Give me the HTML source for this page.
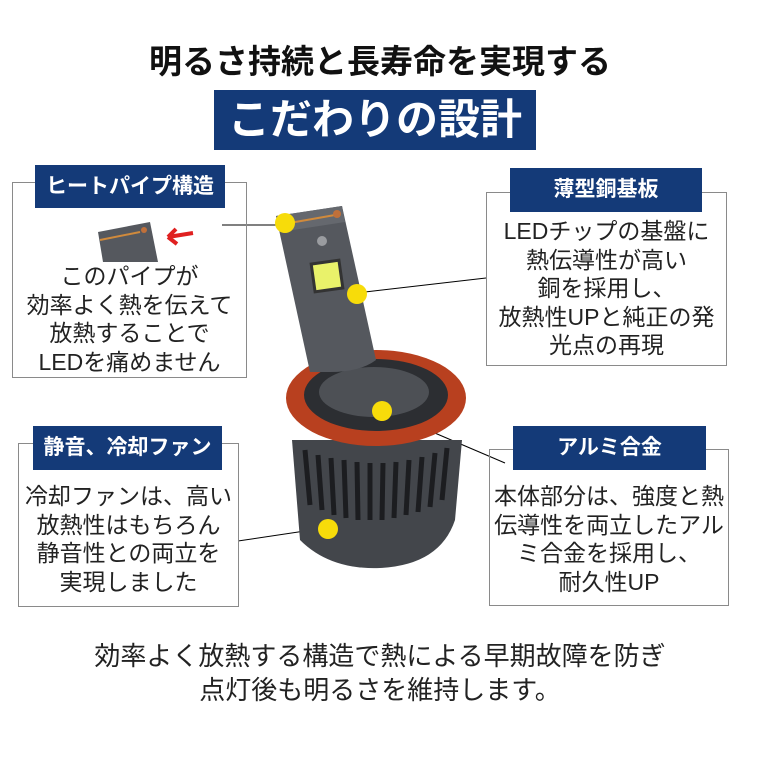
<!DOCTYPE html>
<html><head><meta charset="utf-8"><style>
body{margin:0;width:760px;height:760px;background:#fff;position:relative;overflow:hidden;font-family:"Liberation Sans","Noto Sans CJK JP",sans-serif;color:#222}
.a{position:absolute}
.box{position:absolute;border:1.5px solid #8a8a8a;box-sizing:border-box}
.lab{position:absolute;background:#143a78;color:#fff;font-weight:bold;font-size:21px;text-align:center;box-sizing:border-box;line-height:43px;white-space:nowrap}
.t{position:absolute;text-align:center;font-size:23px;line-height:28.5px;white-space:nowrap}
</style></head><body>
<div class="a" style="left:0;width:760px;top:42px;text-align:center;font-size:33px;font-weight:bold;color:#111;line-height:40px">明るさ持続と長寿命を実現する</div>
<div class="a" style="left:214px;top:90px;width:322px;height:60px;background:#143a78;color:#fff;font-size:42px;font-weight:bold;text-align:center;line-height:60px">こだわりの設計</div>

<svg class="a" style="left:0;top:0" width="760" height="760">
<line x1="222" y1="225" x2="280" y2="225" stroke="#000" stroke-width="1"/>
<line x1="365" y1="292" x2="486" y2="278" stroke="#000" stroke-width="1"/>
<line x1="388" y1="413" x2="505" y2="463" stroke="#000" stroke-width="1"/>
<line x1="238" y1="541" x2="325" y2="528" stroke="#000" stroke-width="1"/>
<path d="M292 440 L300 540 Q330 570 380 568 Q440 565 455 520 L462 440 Z" fill="#43464b"/>
<g stroke="#1c1d20" stroke-width="5">
<line x1="305" y1="450" x2="310" y2="505"/><line x1="318" y1="455" x2="322" y2="510"/><line x1="331" y1="458" x2="334" y2="515"/><line x1="344" y1="460" x2="346" y2="518"/><line x1="357" y1="462" x2="358" y2="520"/><line x1="370" y1="463" x2="370" y2="520"/><line x1="383" y1="463" x2="382" y2="520"/><line x1="396" y1="462" x2="394" y2="518"/><line x1="409" y1="460" x2="406" y2="515"/><line x1="422" y1="457" x2="418" y2="512"/><line x1="435" y1="453" x2="430" y2="507"/><line x1="447" y1="448" x2="442" y2="500"/>
</g>
<ellipse cx="376" cy="398" rx="90" ry="48" fill="#b8401f"/>
<ellipse cx="376" cy="395" rx="72" ry="36" fill="#2c2e32"/>
<ellipse cx="374" cy="392" rx="55" ry="25" fill="#4d5055"/>
<path d="M276 216 L342 206 L376 360 Q360 372 330 372 L310 372 Z" fill="#55585e"/>
<path d="M276 216 L342 206 L345 222 L280 232 Z" fill="#65686e"/>
<line x1="284" y1="224" x2="335" y2="215" stroke="#d08a3c" stroke-width="2"/>
<circle cx="337" cy="214" r="4" fill="#c0703a"/>
<rect x="313" y="262" width="28" height="28" fill="#e9f26a" stroke="#333" stroke-width="3" transform="rotate(-8 327 276)"/>
<circle cx="322" cy="241" r="5" fill="#9a9ca0"/>
<path d="M98 232 L150 222 L158 262 L103 262 Z" fill="#55585e"/>
<line x1="100" y1="240" x2="140" y2="232" stroke="#d08a3c" stroke-width="2"/>
<circle cx="144" cy="230" r="3" fill="#c0703a"/>
<path d="M193 233 L168 237 M168 237 L176 229 M168 237 L177 244" stroke="#e02020" stroke-width="4" fill="none"/>
<circle cx="285" cy="223" r="10" fill="#f7dc0a"/>
<circle cx="357" cy="294" r="10" fill="#f7dc0a"/>
<circle cx="382" cy="411" r="10" fill="#f7dc0a"/>
<circle cx="328" cy="529" r="10" fill="#f7dc0a"/>
</svg>

<div class="box" style="left:12px;top:182px;width:235px;height:196px"></div>
<div class="lab" style="left:35px;top:165px;width:190px;height:43px">ヒートパイプ構造</div>
<div class="t" style="left:12px;width:235px;top:262px">このパイプが<br>効率よく熱を伝えて<br>放熱することで<br>LEDを痛めません</div>

<div class="box" style="left:486px;top:192px;width:241px;height:174px"></div>
<div class="lab" style="left:510px;top:168px;width:192px;height:44px">薄型銅基板</div>
<div class="t" style="left:486px;width:241px;top:217px">LEDチップの基盤に<br>熱伝導性が高い<br>銅を採用し、<br>放熱性UPと純正の発<br>光点の再現</div>

<div class="box" style="left:18px;top:443px;width:221px;height:164px"></div>
<div class="lab" style="left:33px;top:426px;width:189px;height:44px">静音、冷却ファン</div>
<div class="t" style="left:18px;width:221px;top:482px">冷却ファンは、高い<br>放熱性はもちろん<br>静音性との両立を<br>実現しました</div>

<div class="box" style="left:489px;top:449px;width:240px;height:157px"></div>
<div class="lab" style="left:513px;top:426px;width:193px;height:44px">アルミ合金</div>
<div class="t" style="left:489px;width:240px;top:482px">本体部分は、強度と熱<br>伝導性を両立したアル<br>ミ合金を採用し、<br>耐久性UP</div>

<div class="a" style="left:0;width:760px;top:640px;text-align:center;font-size:26px;line-height:33.5px;color:#222">効率よく放熱する構造で熱による早期故障を防ぎ<br>点灯後も明るさを維持します。</div>
</body></html>
